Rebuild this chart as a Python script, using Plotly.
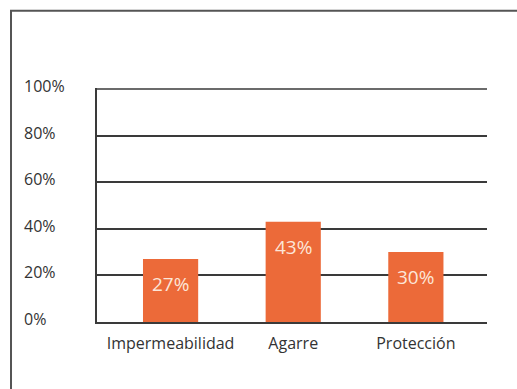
import plotly.graph_objects as go

# Survey results per attribute (percent)
categories = ["Impermeabilidad", "Agarre", "Protección"]
values = [27, 43, 30]
value_labels = ["27%", "43%", "30%"]

# Y axis ticks
tick_values = [0, 20, 40, 60, 80, 100]
tick_labels = ["0%", "20%", "40%", "60%", "80%", "100%"]

BAR_COLOR = "#EC6A39"
TEXT_COLOR = "#333333"
LINE_COLOR = "#3a3a3a"
FONT = "Open Sans, sans-serif"

fig = go.Figure()
fig.add_trace(go.Bar(
    x=categories,
    y=values,
    width=0.45,
    marker=dict(color=BAR_COLOR, line=dict(width=0)),
    hoverinfo="skip",
))

annotations = []
# value labels inside the bars, just below each bar top
for cat, val, lab in zip(categories, values, value_labels):
    annotations.append(dict(
        x=cat, y=val, xref="x", yref="y", text=lab, showarrow=False,
        yanchor="middle", yshift=-25,
        font=dict(family=FONT, size=19, color="#FCE6D8"),
    ))
# left-aligned y tick labels
for tv, tl in zip(tick_values, tick_labels):
    annotations.append(dict(
        x=-0.193, y=tv, xref="paper", yref="y", text=tl, showarrow=False,
        xanchor="left", yanchor="middle", yshift=3,
        font=dict(family=FONT, size=16, color=TEXT_COLOR),
    ))

shapes = [
    # outer frame of the figure
    dict(type="rect", xref="paper", yref="paper",
         x0=-0.2205, x1=1.2, y0=-0.4, y1=1.33,
         line=dict(color="#555555", width=2), fillcolor="rgba(0,0,0,0)",
         layer="below"),
    # top grid line at the maximum tick
    dict(type="line", xref="paper", yref="y",
         x0=0, x1=1, y0=tick_values[-1], y1=tick_values[-1],
         line=dict(color=LINE_COLOR, width=1.5), layer="below"),
]

fig.update_layout(
    width=517, height=389,
    margin=dict(l=97, r=30, t=88, b=67),
    paper_bgcolor="white", plot_bgcolor="white",
    showlegend=False,
    font=dict(family=FONT, size=16, color=TEXT_COLOR),
    annotations=annotations,
    shapes=shapes,
)
fig.update_xaxes(
    range=[-0.6, 2.58], showgrid=False, zeroline=False,
    showline=True, linecolor=LINE_COLOR, linewidth=2,
    ticks="", ticklabelstandoff=6,
    tickfont=dict(family=FONT, size=16, color=TEXT_COLOR),
)
fig.update_yaxes(
    range=[0, 100.43], tickvals=tick_values, showticklabels=False,
    showgrid=True, gridcolor=LINE_COLOR, gridwidth=1.5,
    zeroline=False, showline=True, linecolor=LINE_COLOR, linewidth=2,
)

fig.write_html("out.html")
